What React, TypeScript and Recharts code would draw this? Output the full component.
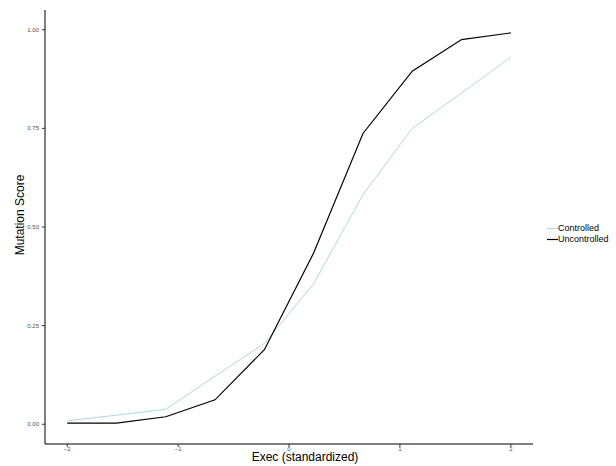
import { LineChart, Line, XAxis, YAxis, Legend, Label } from 'recharts';

const execValues = [-2, -1.556, -1.111, -0.667, -0.222, 0.222, 0.667, 1.111, 1.556, 2];
const controlled = [0.009, 0.023, 0.038, 0.122, 0.205, 0.356, 0.582, 0.75, 0.84, 0.93];
const uncontrolled = [0.003, 0.003, 0.019, 0.062, 0.189, 0.434, 0.737, 0.895, 0.975, 0.992];
const xTicks = [-2, -1, 0, 1, 2];
const yTicks = [0, 0.25, 0.5, 0.75, 1];

const data = execValues.map((x, i) => ({
  exec: x,
  Controlled: controlled[i],
  Uncontrolled: uncontrolled[i],
}));

const FONT = '"Liberation Sans", Arial, sans-serif';
const tickStyle = { fill: '#4d4d4d', fontSize: 6, fontFamily: FONT };

function LegendBox({ payload }: any) {
  return (
    <div style={{ fontFamily: FONT, fontSize: 9, color: '#000' }}>
      {(payload || []).map((p: any) => (
        <div key={p.value} style={{ display: 'flex', alignItems: 'center', height: 11.3, lineHeight: '11.3px' }}>
          <svg width={11} height={11} style={{ display: 'block' }}>
            <line x1={0} x2={11} y1={5.5} y2={5.5} stroke={p.color} strokeWidth={p.value === 'Uncontrolled' ? 1.2 : 1.1} />
          </svg>
          <span>{p.value}</span>
        </div>
      ))}
    </div>
  );
}

export default function App() {
  return (
    <div style={{ position: 'absolute', left: 0, top: 0, background: '#fff' }}>
      <LineChart width={616} height={466} data={data} margin={{ top: 10, right: 83, bottom: 0, left: 0 }}>
        <XAxis
          dataKey="exec"
          type="number"
          domain={[-2.2, 2.2]}
          ticks={xTicks}
          height={22}
          tick={tickStyle}
          tickSize={3}
          tickMargin={0}
          tickFormatter={(v: number) => (v < 0 ? `\u2212${Math.abs(v)}` : `${v}`)}
          axisLine={{ stroke: '#000', strokeWidth: 1 }}
          tickLine={{ stroke: '#333' }}
          allowDataOverflow
        >
          <Label
            content={() => (
              <text x={305} y={461} textAnchor="middle" fontSize={12} fontFamily={FONT} fill="#000">
                Exec (standardized)
              </text>
            )}
          />
        </XAxis>
        <YAxis
          type="number"
          domain={[-0.05, 1.05]}
          ticks={yTicks}
          width={45}
          tick={tickStyle}
          tickSize={3}
          tickMargin={3}
          tickFormatter={(v: number) => v.toFixed(2)}
          axisLine={{ stroke: '#000', strokeWidth: 1 }}
          tickLine={{ stroke: '#333' }}
          allowDataOverflow
        >
          <Label
            content={() => (
              <text
                x={24}
                y={215}
                transform="rotate(-90 24 215)"
                textAnchor="middle"
                fontSize={12}
                fontFamily={FONT}
                fill="#000"
              >
                Mutation Score
              </text>
            )}
          />
        </YAxis>
        <Legend
          layout="vertical"
          align="center"
          verticalAlign="middle"
          content={<LegendBox />}
          wrapperStyle={{ left: 547, top: 223, width: 'auto', height: 'auto' }}
        />
        <Line
          dataKey="Controlled"
          stroke="#ADD8E6"
          strokeWidth={1}
          dot={false}
          activeDot={false}
          isAnimationActive={false}
        />
        <Line
          dataKey="Uncontrolled"
          stroke="#000000"
          strokeWidth={1.2}
          dot={false}
          activeDot={false}
          isAnimationActive={false}
        />
      </LineChart>
    </div>
  );
}
